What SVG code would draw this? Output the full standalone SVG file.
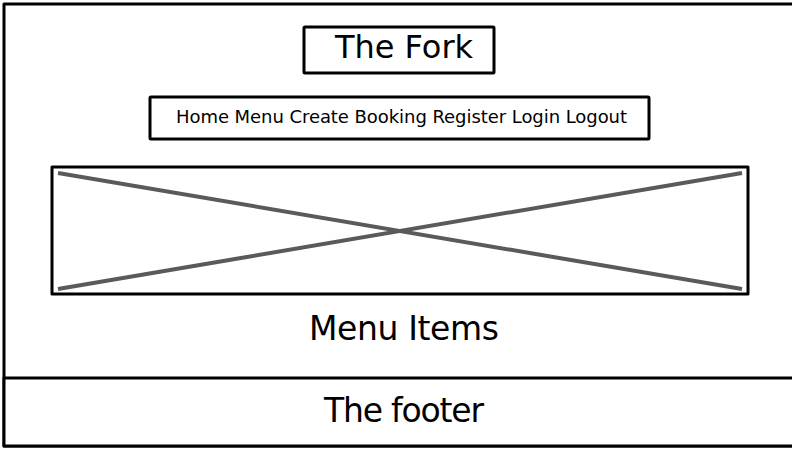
<svg xmlns="http://www.w3.org/2000/svg" width="792" height="457" viewBox="0 0 792 457">
<style>
.box{fill:#fff;stroke:#000;stroke-width:3;stroke-linejoin:round}
.t{font-family:"DejaVu Sans","Liberation Sans",sans-serif;fill:#000;text-anchor:middle}
.x{stroke:#5a5a5a;stroke-width:4;stroke-linecap:butt}
</style>
<rect width="792" height="457" fill="#fff"/>
<g id="page">
<path class="box" d="M4,446 L4,4 L800,4 L800,446 Z"/>
</g>
<g id="title">
<rect class="box" x="304" y="27" width="190" height="46" rx="1"/>
<text class="t" x="404" y="58" font-size="32">The Fork</text>
</g>
<g id="nav">
<rect class="box" x="150" y="97" width="499" height="42" rx="1"/>
<text class="t" x="401.5" y="123" font-size="18" textLength="451">Home Menu Create Booking Register Login Logout</text>
</g>
<g id="image">
<rect class="box" x="52" y="167" width="696" height="127"/>
<line class="x" x1="58" y1="173" x2="742" y2="289"/>
<line class="x" x1="58" y1="289" x2="742" y2="173"/>
</g>
<g id="menu-items">
<text class="t" x="404" y="340" font-size="33" textLength="190">Menu Items</text>
</g>
<g id="footer">
<path class="box" d="M4,378 L800,378 L800,446 L4,446 Z"/>
<text class="t" x="404" y="422" font-size="33" textLength="160">The footer</text>
</g>
<g id="connectors"/>
</svg>
